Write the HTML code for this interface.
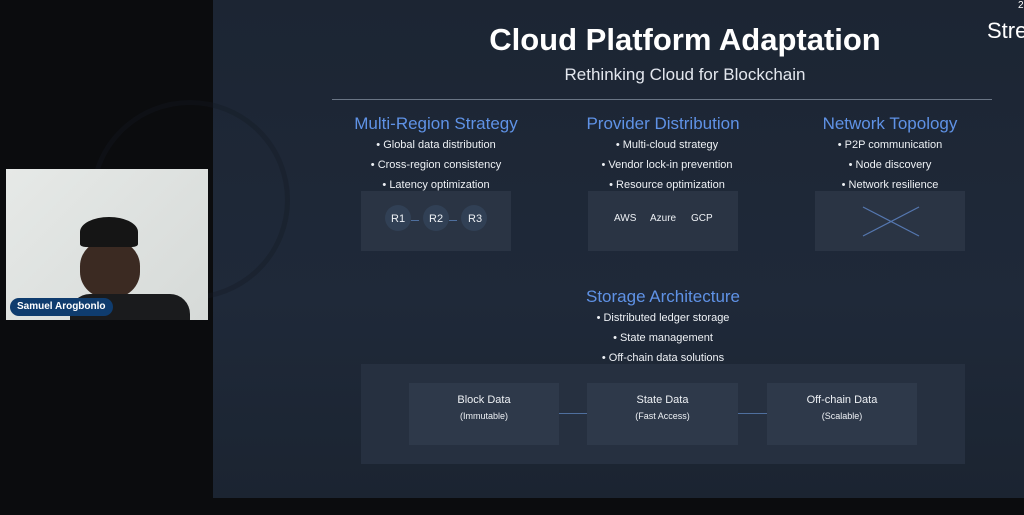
<!DOCTYPE html>
<html><head><meta charset="utf-8"><style>
*{margin:0;padding:0;box-sizing:border-box}
body{width:1024px;height:515px;background:#0b0c0e;position:relative;overflow:hidden;font-family:"Liberation Sans",sans-serif;color:#e8ecf2}
.a{position:absolute}
.slide{left:213px;top:0;width:811px;height:498px;background:linear-gradient(180deg,#1c2533 0%,#1f2939 60%,#1b2431 100%)}
.t{text-align:center;white-space:nowrap}
.h{color:#5f92e6;font-size:17px}
.b{font-size:11px;color:#eef1f5}
.box{background:#2a3444}
.ib{background:#2e394a}
.line{background:#4f6f9e;height:1px}
</style></head><body>
<div class="a slide"></div>
<div class="a" style="left:90px;top:100px;width:200px;height:200px;border-radius:50%;border:5px solid #151a21;opacity:.35"></div>
<div class="a t" style="left:987px;top:18px;font-size:22px;color:#fff">Stre</div>
<div class="a t" style="left:1018px;top:0;font-size:10px;color:#fff">2</div>
<div class="a t" style="left:420px;top:22px;width:530px;font-size:31px;font-weight:bold;color:#fff">Cloud Platform Adaptation</div>
<div class="a t" style="left:420px;top:65px;width:530px;font-size:17px;color:#e3e7ee">Rethinking Cloud for Blockchain</div>
<div class="a" style="left:332px;top:99px;width:660px;height:1px;background:#6a7585"></div>

<div class="a t h" style="left:336px;top:114px;width:200px">Multi-Region Strategy</div>
<div class="a t b" style="left:336px;top:139px;width:200px">• Global data distribution</div>
<div class="a t b" style="left:336px;top:159px;width:200px">• Cross-region consistency</div>
<div class="a t b" style="left:336px;top:179px;width:200px">• Latency optimization</div>
<div class="a box" style="left:361px;top:191px;width:150px;height:60px"></div>
<div class="a" style="left:385px;top:205px;width:26px;height:26px;border-radius:50%;background:#314055"></div>
<div class="a" style="left:423px;top:205px;width:26px;height:26px;border-radius:50%;background:#314055"></div>
<div class="a" style="left:461px;top:205px;width:26px;height:26px;border-radius:50%;background:#314055"></div>
<div class="a b" style="left:391px;top:213px">R1</div>
<div class="a line" style="left:411px;top:220px;width:8px"></div>
<div class="a b" style="left:429px;top:213px">R2</div>
<div class="a line" style="left:449px;top:220px;width:8px"></div>
<div class="a b" style="left:468px;top:213px">R3</div>

<div class="a t h" style="left:563px;top:114px;width:200px">Provider Distribution</div>
<div class="a t b" style="left:567px;top:139px;width:200px">• Multi-cloud strategy</div>
<div class="a t b" style="left:567px;top:159px;width:200px">• Vendor lock-in prevention</div>
<div class="a t b" style="left:567px;top:179px;width:200px">• Resource optimization</div>
<div class="a box" style="left:588px;top:191px;width:150px;height:60px"></div>
<div class="a b" style="left:614px;top:213px;font-size:10px">AWS</div>
<div class="a b" style="left:650px;top:213px;font-size:10px">Azure</div>
<div class="a b" style="left:691px;top:213px;font-size:10px">GCP</div>

<div class="a t h" style="left:790px;top:114px;width:200px">Network Topology</div>
<div class="a t b" style="left:790px;top:139px;width:200px">• P2P communication</div>
<div class="a t b" style="left:790px;top:159px;width:200px">• Node discovery</div>
<div class="a t b" style="left:790px;top:179px;width:200px">• Network resilience</div>
<div class="a box" style="left:815px;top:191px;width:150px;height:60px"></div>
<svg class="a" style="left:815px;top:191px" width="150" height="60"><line x1="48" y1="16" x2="104" y2="45" stroke="#5577b0" stroke-width="1.2"/><line x1="104" y1="16" x2="48" y2="45" stroke="#5577b0" stroke-width="1.2"/></svg>

<div class="a t h" style="left:563px;top:287px;width:200px">Storage Architecture</div>
<div class="a t b" style="left:563px;top:312px;width:200px">• Distributed ledger storage</div>
<div class="a t b" style="left:563px;top:332px;width:200px">• State management</div>
<div class="a t b" style="left:563px;top:352px;width:200px">• Off-chain data solutions</div>
<div class="a box" style="left:361px;top:364px;width:604px;height:100px;background:#263040"></div>
<div class="a ib" style="left:409px;top:383px;width:150px;height:62px"></div>
<div class="a ib" style="left:587px;top:383px;width:151px;height:62px"></div>
<div class="a ib" style="left:767px;top:383px;width:150px;height:62px"></div>
<div class="a line" style="left:559px;top:413px;width:28px"></div>
<div class="a line" style="left:738px;top:413px;width:29px"></div>
<div class="a t b" style="left:409px;top:394px;width:150px">Block Data</div>
<div class="a t b" style="left:409px;top:411px;width:150px;font-size:9px">(Immutable)</div>
<div class="a t b" style="left:587px;top:394px;width:151px">State Data</div>
<div class="a t b" style="left:587px;top:411px;width:151px;font-size:9px">(Fast Access)</div>
<div class="a t b" style="left:767px;top:394px;width:150px">Off-chain Data</div>
<div class="a t b" style="left:767px;top:411px;width:150px;font-size:9px">(Scalable)</div>

<div class="a" style="left:6px;top:169px;width:202px;height:151px;background:linear-gradient(135deg,#e6e9e7,#d6dad8)"></div>
<div class="a" style="left:80px;top:240px;width:60px;height:58px;border-radius:45%;background:#3b2a22"></div>
<div class="a" style="left:80px;top:217px;width:58px;height:30px;border-radius:50% 50% 10% 10%;background:#151515"></div>
<div class="a" style="left:70px;top:294px;width:120px;height:26px;border-radius:20px 20px 0 0;background:#1a1b1d"></div>
<div class="a" style="left:10px;top:298px;width:103px;height:18px;border-radius:9px;background:#0f3c6e;color:#fff;font-size:10px;font-weight:bold;padding:3px 0 0 7px">Samuel Arogbonlo</div>
</body></html>
